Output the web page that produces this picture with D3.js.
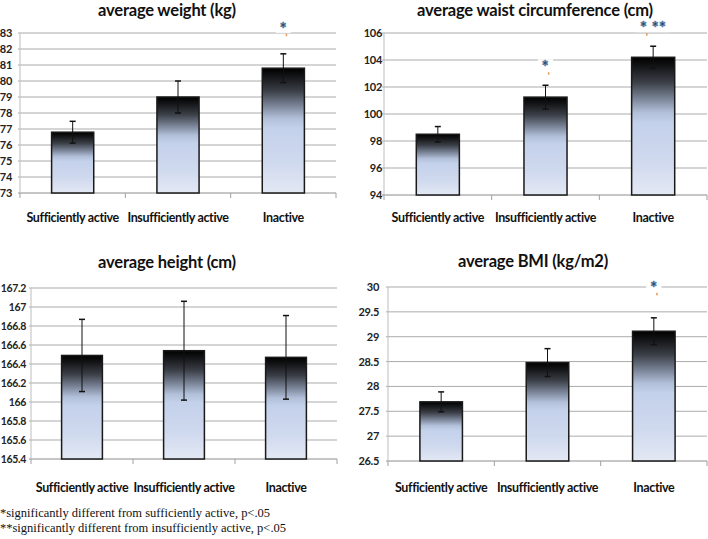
<!DOCTYPE html>
<html>
<head>
<meta charset="utf-8">
<script src="https://cdn.jsdelivr.net/npm/d3@7"></script>
<style>
  body { margin: 0; background: #fff; }
  svg { display: block; }
</style>
</head>
<body>
<div id="chart"></div>
<script>
// categories
const groups = ["Sufficiently active", "Insufficiently active", "Inactive"]

// means and error (+/-) per panel
const weightMean = [76.8, 79.0, 80.8]
const weightErr = [0.68, 1.0, 0.9]
const waistMean = [98.5, 101.25, 104.2]
const waistErr = [0.57, 0.88, 0.82]
const heightMean = [166.49, 166.54, 166.47]
const heightErr = [0.38, 0.52, 0.44]
const bmiMean = [27.69, 28.48, 29.11]
const bmiErr = [0.2, 0.28, 0.27]

// significance marks
const weightSig = ["", "", "*"]
const waistSig = ["", "*", "* **"]
const heightSig = ["", "", ""]
const bmiSig = ["", "", "*"]

// y tick labels
const weightTicks = ["73", "74", "75", "76", "77", "78", "79", "80", "81", "82", "83"]
const waistTicks = ["94", "96", "98", "100", "102", "104", "106"]
const heightTicks = ["165.4", "165.6", "165.8", "166", "166.2", "166.4", "166.6", "166.8", "167", "167.2"]
const bmiTicks = ["26.5", "27", "27.5", "28", "28.5", "29", "29.5", "30"]

const footnotes = [
  "*significantly different from sufficiently active, p<.05",
  "**significantly different from insufficiently active, p<.05"
]

const width = 708
const height = 539

const svg = d3.select("#chart")
  .append("svg")
  .attr("width", width)
  .attr("height", height)

// bar gradient: black top fading into pale blue
const grad = svg.append("defs")
  .append("linearGradient")
  .attr("id", "barGrad")
  .attr("x1", 0).attr("y1", 0).attr("x2", 0).attr("y2", 1)
const stops = [[0, "#000000"], [0.07, "#151618"], [0.18, "#3a3e46"], [0.3, "#7a8497"], [0.4, "#b1bfd9"], [0.48, "#c4d1eb"], [0.75, "#cfd9ee"], [1, "#e3e8f4"]]
stops.forEach(s => grad.append("stop").attr("offset", s[0]).attr("stop-color", s[1]))

const font = "Lato, 'Open Sans', sans-serif"

function drawPanel(p) {
  const g = svg.append("g")
  const vals = p.ticks.map(Number)

  const x = d3.scaleBand()
    .domain(groups)
    .range([p.x0, p.x1])
    .paddingInner(0.6)
    .paddingOuter(0.3)

  const y = d3.scaleLinear()
    .domain(d3.extent(vals))
    .range([p.yBot, p.yTop])

  // grid lines
  g.selectAll(".grid")
    .data(vals)
    .join("line")
      .attr("x1", p.x0 - 2)
      .attr("x2", p.x1)
      .attr("y1", d => y(d))
      .attr("y2", d => y(d))
      .attr("stroke", (d, i) => i == 0 ? "#8c8c8c" : "#ababab")
      .attr("stroke-width", 1)

  // left axis line
  g.append("line")
    .attr("x1", p.x0).attr("x2", p.x0)
    .attr("y1", p.yTop).attr("y2", p.yBot)
    .attr("stroke", "#bdbdbd")

  // x tick marks at band boundaries
  const step = (p.x1 - p.x0) / groups.length
  g.selectAll(".xt")
    .data(d3.range(groups.length + 1))
    .join("line")
      .attr("x1", d => p.x0 + d * step)
      .attr("x2", d => p.x0 + d * step)
      .attr("y1", p.yBot)
      .attr("y2", p.yBot + 5)
      .attr("stroke", "#a0a0a0")

  // y tick labels
  g.selectAll(".yl")
    .data(p.ticks)
    .join("text")
      .attr("x", p.labelX)
      .attr("y", d => y(+d) + 4)
      .attr("text-anchor", "end")
      .attr("font-family", font)
      .attr("font-weight", 700)
      .attr("font-size", p.labelSize)
      .attr("letter-spacing", -0.3)
      .attr("fill", "#222")
      .text(d => d)

  // bars
  g.selectAll(".bar")
    .data(p.means)
    .join("rect")
      .attr("x", (d, i) => x(groups[i]))
      .attr("y", d => y(d))
      .attr("width", x.bandwidth())
      .attr("height", d => p.yBot - y(d))
      .attr("fill", "url(#barGrad)")
      .attr("stroke", "#1a1a1a")
      .attr("stroke-width", 1.5)

  // error bars
  const eb = g.selectAll(".err")
    .data(p.means)
    .join("g")
  eb.append("line")
    .attr("x1", (d, i) => x(groups[i]) + x.bandwidth() / 2)
    .attr("x2", (d, i) => x(groups[i]) + x.bandwidth() / 2)
    .attr("y1", (d, i) => y(d + p.errs[i]))
    .attr("y2", (d, i) => y(d - p.errs[i]))
    .attr("stroke", "#111")
  ;[1, -1].forEach(sgn => {
    eb.append("line")
      .attr("x1", (d, i) => x(groups[i]) + x.bandwidth() / 2 - 3)
      .attr("x2", (d, i) => x(groups[i]) + x.bandwidth() / 2 + 3)
      .attr("y1", (d, i) => y(d + sgn * p.errs[i]))
      .attr("y2", (d, i) => y(d + sgn * p.errs[i]))
      .attr("stroke", "#111")
      .attr("stroke-width", 1.5)
  })

  // significance stars with a white patch breaking the grid
  p.means.forEach((d, i) => {
    if (!p.sig[i]) return
    const cx = x(groups[i]) + x.bandwidth() / 2
    const cy = y(d + p.errs[i]) - p.sigGap
    const t = g.append("text")
      .attr("x", cx)
      .attr("y", cy + 8)
      .attr("text-anchor", "middle")
      .attr("font-family", font)
      .attr("font-weight", 900)
      .attr("font-size", 16)
      .attr("letter-spacing", 0.5)
      .attr("fill", "#1f3a58")
      .attr("stroke", "#5f86b0")
      .attr("stroke-width", 0.6)
      .text(p.sig[i])
    const bb = t.node().getBBox()
    g.insert("rect", "text")
      .attr("x", bb.x - 4)
      .attr("y", cy - 6)
      .attr("width", bb.width + 8)
      .attr("height", 12)
      .attr("fill", "#fff")
    g.append("rect")
      .attr("x", bb.x + 6)
      .attr("y", cy + 7)
      .attr("width", 1.5)
      .attr("height", 2.5)
      .attr("fill", "#e39a55")
  })

  // title
  g.append("text")
    .attr("x", p.titleX)
    .attr("y", p.titleY)
    .attr("text-anchor", "middle")
    .attr("font-family", font)
    .attr("font-weight", 700)
    .attr("font-size", 16.5)
    .attr("letter-spacing", -0.2)
    .attr("fill", "#111")
    .text(p.title)

  // category labels
  g.selectAll(".cat")
    .data(groups)
    .join("text")
      .attr("x", d => x(d) + x.bandwidth() / 2)
      .attr("y", p.catY)
      .attr("text-anchor", "middle")
      .attr("font-family", font)
      .attr("font-weight", 700)
      .attr("font-size", 12.5)
      .attr("letter-spacing", -0.35)
      .attr("fill", "#111")
      .text(d => d)
}

drawPanel({ title: "average weight (kg)", means: weightMean, errs: weightErr, sig: weightSig, ticks: weightTicks,
  x0: 20, x1: 336, yTop: 33, yBot: 193, labelX: 12, labelSize: 11, titleX: 167, titleY: 16, catY: 222, sigGap: 27 })
drawPanel({ title: "average waist circumference (cm)", means: waistMean, errs: waistErr, sig: waistSig, ticks: waistTicks,
  x0: 384, x1: 707, yTop: 33, yBot: 195, labelX: 382, labelSize: 11, titleX: 535, titleY: 16, catY: 222, sigGap: 20 })
drawPanel({ title: "average height (cm)", means: heightMean, errs: heightErr, sig: heightSig, ticks: heightTicks,
  x0: 31, x1: 337, yTop: 288, yBot: 459, labelX: 26, labelSize: 10.5, titleX: 167, titleY: 268, catY: 492, sigGap: 25 })
drawPanel({ title: "average BMI (kg/m2)", means: bmiMean, errs: bmiErr, sig: bmiSig, ticks: bmiTicks,
  x0: 388, x1: 707, yTop: 287, yBot: 461, labelX: 379, labelSize: 11, titleX: 533, titleY: 267, catY: 492, sigGap: 32 })

// footnotes
svg.selectAll(".foot")
  .data(footnotes)
  .join("text")
    .attr("x", 0)
    .attr("y", (d, i) => 517 + i * 15)
    .attr("font-family", "'Liberation Serif', 'Times New Roman', serif")
    .attr("font-size", 12.5)
    .attr("fill", "#111")
    .text(d => d)
</script>
</body>
</html>
